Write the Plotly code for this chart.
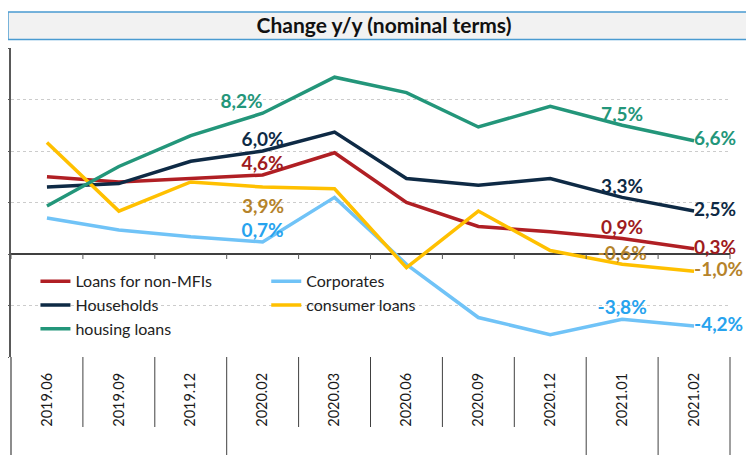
import plotly.graph_objects as go

categories = ["2019.06", "2019.09", "2019.12", "2020.02", "2020.03",
              "2020.06", "2020.09", "2020.12", "2021.01", "2021.02"]

non_mfi = [4.5, 4.2, 4.4, 4.6, 5.9, 3.0, 1.6, 1.3, 0.9, 0.3]
corporates = [2.1, 1.4, 1.0, 0.7, 3.3, -0.6, -3.7, -4.7, -3.8, -4.2]
households = [3.9, 4.1, 5.4, 6.0, 7.1, 4.4, 4.0, 4.4, 3.3, 2.5]
consumer = [6.5, 2.5, 4.2, 3.9, 3.8, -0.8, 2.5, 0.2, -0.6, -1.0]
housing = [2.8, 5.1, 6.9, 8.2, 10.3, 9.4, 7.4, 8.6, 7.5, 6.6]

y_ticks = [-6, -3, 0, 3, 6, 9, 12]

labelled = {3, 8, 9}

def fmt(v):
    return ("%.1f%%" % v).replace(".", ",")

def texts(vals, skip=()):
    return [fmt(v) if (i in labelled and i not in skip) else "" for i, v in enumerate(vals)]

# name, values, line colour, label colour, label positions, legend, labels drawn as annotations
series = [
    ("Loans for non-MFIs", non_mfi, "#b01f24", "#9e1b20",
     ["top center"] * 9 + ["middle right"], "legend", ()),
    ("Corporates", corporates, "#70c3f7", "#27a3ee",
     ["top center"] * 9 + ["middle right"], "legend2", ()),
    ("Households", households, "#0e2a45", "#0e2a45",
     ["top center"] * 9 + ["middle right"], "legend", ()),
    ("consumer loans", consumer, "#ffc000", "#b5832a",
     ["top center"] * 9 + ["middle right"], "legend2", (3,)),
    ("housing loans", housing, "#23967a", "#23967a",
     ["top center"] * 3 + ["top left"] + ["top center"] * 5 + ["middle right"], "legend", ()),
]

x = list(range(len(categories)))
fig = go.Figure()
annotations = []
for name, vals, col, tcol, pos, leg, skip in series:
    fig.add_trace(go.Scatter(
        x=x, y=vals, name=name, mode="lines+text",
        line=dict(color=col, width=3.5),
        text=texts(vals, skip), textposition=pos,
        textfont=dict(family="Lato", size=19, color=tcol, weight="bold"),
        legend=leg, hoverinfo="skip", cliponaxis=False,
    ))
    for i in skip:
        annotations.append(dict(x=x[i], y=vals[i], xref="x", yref="y",
                                text="<b>%s</b>" % fmt(vals[i]), showarrow=False,
                                yshift=-18, font=dict(family="Lato", size=19, color=tcol)))

# page has an 8px body margin, so the figure is drawn 8px smaller
W, H = 746, 447
n = len(categories)
shapes = []
# title box
shapes.append(dict(type="rect", xref="paper", yref="paper",
                   x0=-0.0042, x1=1.05, y0=1.0275, y1=1.1165,
                   fillcolor="#f2f2f2", line=dict(color="#4a9bd1", width=1.5),
                   layer="below"))
full = {0, 3, 8, 9, 10}
for k in range(n + 1):
    b = k / n
    # small ticks below the zero line
    shapes.append(dict(type="line", xref="paper", yref="y", ysizemode="pixel",
                       yanchor=0, x0=b, x1=b, y0=0, y1=-5,
                       line=dict(color="#595959", width=1)))
    # dividers in the category label area
    shapes.append(dict(type="line", xref="paper", yref="paper", ysizemode="pixel",
                       yanchor=0, x0=b, x1=b, y0=0,
                       y1=-98 if k in full else -70,
                       line=dict(color="#404040", width=1.2 if k == 0 else 1)))

fig.update_layout(
    width=W, height=H,
    margin=dict(l=3, r=24, t=40, b=98),
    paper_bgcolor="white", plot_bgcolor="white",
    font=dict(family="Lato", size=15, color="#222222"),
    title=dict(text="<b>Change y/y (nominal terms)</b>", x=(384 - 8) / W, xanchor="center",
               y=1 - 18 / H, yanchor="middle",
               font=dict(family="Lato", size=21, color="#111111"),
               automargin=False),
    xaxis=dict(range=[-0.5, 9.5], tickmode="array", tickvals=x, ticktext=categories,
               tickangle=-90, showgrid=False, zeroline=False, showline=False,
               ticks="", ticklabelstandoff=12, automargin=False,
               tickfont=dict(family="Lato", size=14.5, color="#1a1a1a")),
    yaxis=dict(range=[-6, 12], tickmode="array", tickvals=y_ticks,
               showticklabels=False, ticks="outside", ticklen=7, automargin=False,
               tickcolor="#595959", showline=True, linecolor="#595959", linewidth=1.5,
               showgrid=True, gridcolor="#cccccc", griddash="dot", gridwidth=1,
               zeroline=True, zerolinecolor="#404040", zerolinewidth=1.5),
    legend=dict(x=0.034, y=0.30, xanchor="left", yanchor="top",
                bgcolor="rgba(0,0,0,0)", tracegroupgap=0,
                font=dict(family="Lato", size=16, color="#222222"),
                itemwidth=30),
    legend2=dict(x=0.355, y=0.30, xanchor="left", yanchor="top",
                 bgcolor="rgba(0,0,0,0)", tracegroupgap=0,
                 font=dict(family="Lato", size=16, color="#222222"),
                 itemwidth=30),
    shapes=shapes,
    annotations=annotations,
    showlegend=True,
)

fig.write_html("out.html")
